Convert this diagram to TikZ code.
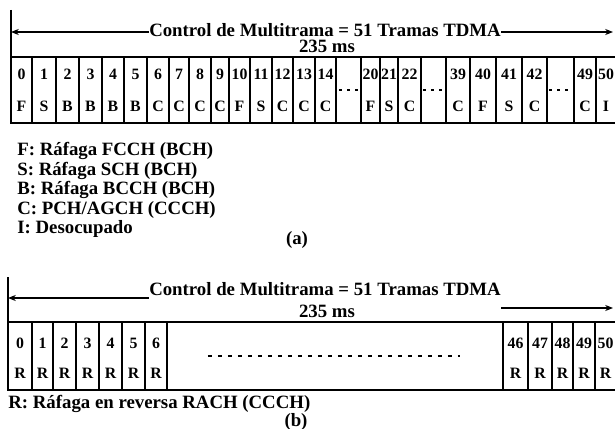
\documentclass[tikz,border=0pt]{standalone}
\usepackage{fontspec}
\setmainfont{Liberation Serif}
\usetikzlibrary{arrows.meta}

\tikzset{
  cellbox/.style={draw, line width=0.8pt, inner sep=0pt, outer sep=0pt, anchor=north west},
  celltext/.style={font=\fontsize{9}{9}\selectfont\bfseries, inner sep=0pt},
  headtext/.style={font=\fontsize{10.7}{11}\selectfont\bfseries, inner sep=0pt},
  dimline/.style={line width=0.6pt, -{Stealth[length=4.5pt,width=3.5pt]}},
  frame/.style={line width=0.8pt},
  gapdots/.style={line width=0.9pt, dash pattern=on 0.06cm off 0.1cm}
}

\begin{document}
\begin{tikzpicture}[x=0.02cm, y=-0.02cm]
\useasboundingbox (0,0) rectangle (615,429);

% (a) control channel multiframe
\node[headtext] (titleA) at (325,30) {Control de Multitrama = 51 Tramas TDMA};
\node[headtext, anchor=base] (msA) at (327,53) {235 ms};
\coordinate (tickA) at (11,10);
\coordinate (endA) at (613,33);

\foreach \l/\r/\n/\c in {11/32/0/F, 32/56/1/S, 56/79/2/B, 79/102/3/B, 102/124/4/B,
    124/147/5/B, 147/169/6/C, 169/189/7/C, 189/211/8/C, 211/229/9/C, 229/250/10/F,
    250/272/11/S, 272/293/12/C, 293/315/13/C, 315/336/14/C, 361/380/20/F,
    380/398/21/S, 398/421/22/C, 446/470/39/C, 470/496/40/F, 496/522/41/S,
    522/547/42/C, 574/596/49/C, 596/616/50/I} {
  \node[cellbox, minimum width={(\r-\l)*0.02cm}, minimum height=1.32cm] (a\n) at (\l,57) {};
  \node[celltext] (na\n) at ([yshift=-0.34cm]a\n.north) {\n};
  \node[celltext] (ca\n) at ([yshift=0.34cm]a\n.south) {\c};
}

\draw[frame] (tickA) -- (a0.north west);
\draw[frame] (a0.north west) -- (a50.north east);
\draw[frame] (a0.south west) -- (a50.south east);
\draw[dimline] ([yshift=-0.04cm]titleA.west) -- ([yshift=-0.04cm]titleA.west -| tickA);
\draw[dimline] ([yshift=-0.04cm]titleA.east) -- ([yshift=-0.04cm]titleA.east -| endA);

\draw[gapdots] ([xshift=0.06cm]a14.east) -- ([xshift=-0.06cm]a20.west);
\draw[gapdots] ([xshift=0.04cm]a22.east) -- ([xshift=-0.04cm]a39.west);
\draw[gapdots] ([xshift=0.04cm]a42.east) -- ([xshift=-0.04cm]a49.west);

\foreach \t [count=\i] in {{F: Ráfaga FCCH (BCH)}, {S: Ráfaga SCH (BCH)},
    {B: Ráfaga BCCH (BCH)}, {C: PCH/AGCH (CCCH)}, {I: Desocupado}}
  \node[headtext, anchor=base west] (legA\i) at (17,136.5+19.4*\i) {\t};
\node[headtext] (capA) at (297,240) {(a)};

% (b) reverse channel multiframe
\node[headtext] (titleB) at (325,289) {Control de Multitrama = 51 Tramas TDMA};
\node[headtext, anchor=base] (msB) at (327,317) {235 ms};
\coordinate (tickB) at (8,277);
\coordinate (endB) at (613,309);

\foreach \l/\r/\n in {8/32/0, 32/53/1, 53/76/2, 76/99/3, 99/122/4, 122/145/5,
    145/167/6, 503/528/46, 528/552/47, 552/573/48, 573/595/49, 595/616/50} {
  \node[cellbox, minimum width={(\r-\l)*0.02cm}, minimum height=1.36cm] (b\n) at (\l,322) {};
  \node[celltext] (nb\n) at ([yshift=-0.42cm]b\n.north) {\n};
  \node[celltext] (cb\n) at ([yshift=0.34cm]b\n.south) {R};
}

\draw[frame] (tickB) -- (b0.north west);
\draw[frame] (b0.north west) -- (b50.north east);
\draw[frame] (b0.south west) -- (b50.south east);
\draw[dimline] ([yshift=-0.18cm]titleB.west) -- ([yshift=-0.18cm]titleB.west -| tickB);
\draw[dimline] ([yshift=-0.38cm]titleB.east) -- ([yshift=-0.38cm]titleB.east -| endB);
\draw[gapdots, dash pattern=on 0.08cm off 0.12cm] ([xshift=0.82cm]b6.east) -- ([xshift=-0.86cm]b46.west);

\node[headtext, anchor=base west] (legB) at (8,408) {R: Ráfaga en reversa RACH (CCCH)};
\node[headtext] (capB) at (296,422) {(b)};
\end{tikzpicture}
\end{document}
